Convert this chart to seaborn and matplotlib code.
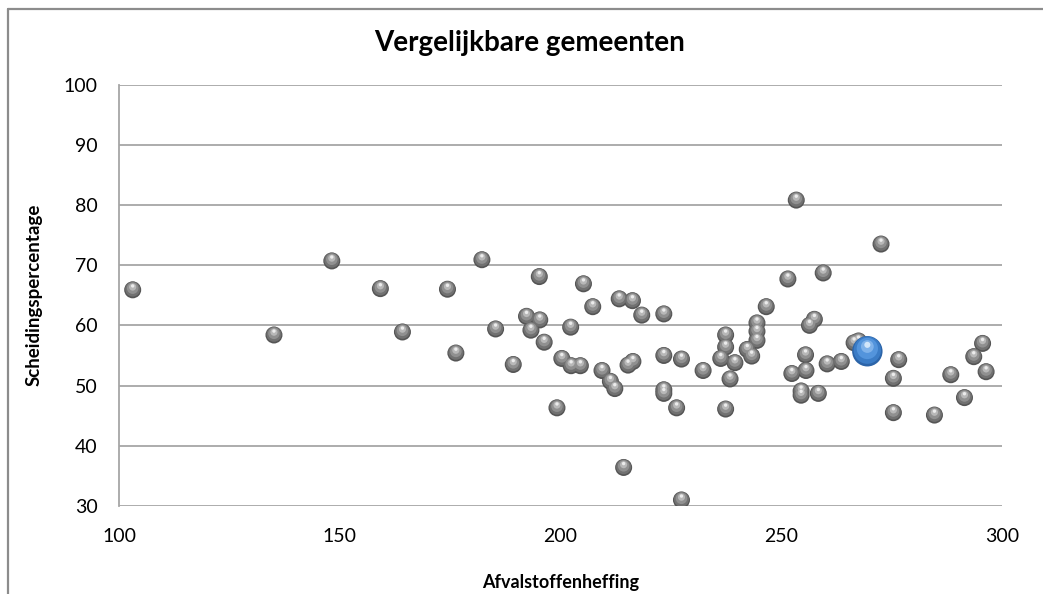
import matplotlib
matplotlib.use("Agg")
import matplotlib.pyplot as plt
import matplotlib.transforms as mtransforms
from matplotlib.lines import Line2D
import seaborn as sns

# Afvalstoffenheffing (x) en scheidingspercentage (y) van vergelijkbare gemeenten
heffing = [103.1, 135.1, 148.2, 159.2, 164.2, 174.4, 176.3, 182.2, 185.3, 189.3,
           192.3, 193.3, 195.3, 195.2, 196.3, 199.2, 200.3, 202.3, 202.4, 204.5,
           205.2, 207.3, 209.4, 211.3, 212.3, 213.3, 214.3, 215.3, 216.3, 216.4,
           218.4, 223.4, 223.4, 223.4, 223.4, 226.3, 227.4, 227.4, 232.3, 236.3,
           237.4, 237.4, 237.4, 238.4, 239.5, 242.3, 243.3, 244.5, 244.5, 244.5,
           246.6, 251.5, 252.4, 253.4, 254.5, 254.5, 255.5, 255.6, 256.4, 257.5,
           258.4, 259.5, 260.4, 263.6, 266.5, 267.5, 272.6, 275.4, 275.4, 276.6,
           284.7, 288.4, 291.5, 293.6, 295.6, 296.4]
scheiding = [65.9, 58.4, 70.7, 66.1, 58.9, 66.0, 55.4, 70.9, 59.4, 53.5,
             61.5, 59.2, 60.9, 68.1, 57.2, 46.3, 54.5, 59.7, 53.3, 53.3,
             66.9, 63.1, 52.5, 50.7, 49.5, 64.4, 36.4, 53.4, 64.1, 54.0,
             61.7, 61.9, 55.0, 49.3, 48.7, 46.3, 54.4, 31.0, 52.5, 54.5,
             58.4, 56.4, 46.1, 51.1, 53.8, 56.0, 54.9, 60.4, 59.0, 57.5,
             63.1, 67.7, 52.0, 80.8, 49.1, 48.4, 55.1, 52.5, 60.0, 61.0,
             48.7, 68.7, 53.6, 54.0, 57.1, 57.4, 73.5, 51.2, 45.5, 54.3,
             45.1, 51.8, 48.0, 54.8, 57.0, 52.3]

# eigen gemeente
eigen_heffing = [269.5]
eigen_scheiding = [55.7]

x_ticks = [100, 150, 200, 250, 300]
y_ticks = [30, 40, 50, 60, 70, 80, 90, 100]

sns.set_style("white")
plt.rcParams['font.family'] = ['Lato', 'DejaVu Sans']
plt.rcParams['text.color'] = 'black'
plt.rcParams['axes.labelcolor'] = 'black'

fig = plt.figure(figsize=(10.43, 5.94), dpi=100)
ax = fig.add_axes([119 / 1043, 1 - 506 / 594, 883 / 1043, 421.5 / 594])

grid_col = '#a6a6a6'


def sphere(ax, x, y, size, layers):
    # fake 3D bol: lagen van donker naar licht, telkens iets omhoog geschoven
    for scale, color, dy in layers:
        tr = ax.transData + mtransforms.ScaledTranslation(0, dy / 72, fig.dpi_scale_trans)
        sns.scatterplot(x=x, y=y, ax=ax, s=size * scale ** 2, color=color,
                        edgecolor='none', linewidth=0, transform=tr, zorder=3)


grey_layers = [(1.0, '#555555', 0), (0.88, '#717171', 0.5), (0.68, '#909090', 1.2),
               (0.42, '#b8b8b8', 2.0), (0.2, '#ececec', 2.8)]
blue_layers = [(1.0, '#2c64a8', 0), (0.9, '#3b7cc6', 0.8), (0.7, '#5394dc', 2.0),
               (0.42, '#7fb2ea', 3.4), (0.2, '#d2e6fa', 4.6)]

sphere(ax, heffing, scheiding, 150, grey_layers)
sphere(ax, eigen_heffing, eigen_scheiding, 480, blue_layers)

ax.set_xlim(100, 300)
ax.set_ylim(30, 100)
ax.set_xticks(x_ticks)
ax.set_yticks(y_ticks)
ax.tick_params(axis='both', length=0, labelsize=14, colors='black')
ax.tick_params(axis='x', pad=15.5)
ax.tick_params(axis='y', pad=15.5)

for yv in y_ticks:
    ax.axhline(yv, color=grid_col, lw=1.3, zorder=1)

for side in ['top', 'right', 'bottom']:
    ax.spines[side].set_visible(False)
ax.spines['left'].set_color(grid_col)
ax.spines['left'].set_linewidth(1.3)

ax.set_xlabel('Afvalstoffenheffing', fontsize=13, fontweight='bold', labelpad=21)
ax.set_ylabel('Scheidingspercentage', fontsize=13.5, fontweight='bold', labelpad=15)
fig.text(530 / 1043, 1 - 50.7 / 594, 'Vergelijkbare gemeenten', ha='center', va='baseline',
         fontsize=20, fontweight='bold')

# kader van de grafiek (alleen links en boven zichtbaar)
fig.add_artist(Line2D([8 / 1043, 8 / 1043], [0, 1 - 9 / 594], transform=fig.transFigure,
                      color='#8c8c8c', lw=1.6))
fig.add_artist(Line2D([8 / 1043, 1], [1 - 9 / 594, 1 - 9 / 594], transform=fig.transFigure,
                      color='#8c8c8c', lw=1.6))

fig.savefig('out.png', dpi=100)
